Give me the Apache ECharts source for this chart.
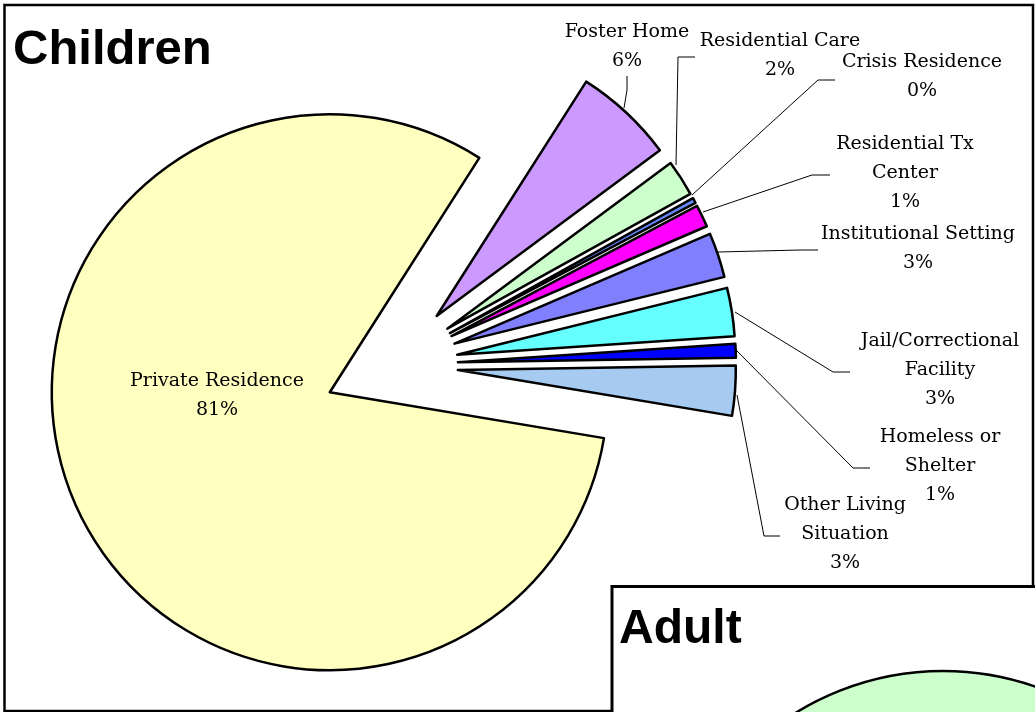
<!DOCTYPE html>
<html>
<head>
<meta charset="utf-8">
<script src="https://cdn.jsdelivr.net/npm/echarts@6/dist/echarts.min.js"></script>
<style>
  html, body { margin: 0; padding: 0; background: #fff; }
  #chart { width: 1035px; height: 712px; }
</style>
</head>
<body>
<div id="chart"></div>
<script>
// children living situation (share of total)
const categories = [
  'Private Residence', 'Foster Home', 'Residential Care', 'Crisis Residence',
  'Residential Tx Center', 'Institutional Setting', 'Jail/Correctional Facility',
  'Homeless or Shelter', 'Other Living Situation'
];
const childValues = [81.4, 5.8, 2.1, 0.3, 1.3, 2.6, 2.8, 0.8, 2.9];
// label text as broken on the slide
const labelNames = [
  'Private Residence', 'Foster Home', 'Residential Care', 'Crisis Residence',
  'Residential Tx\nCenter', 'Institutional Setting', 'Jail/Correctional\nFacility',
  'Homeless or\nShelter', 'Other Living\nSituation'
];
const sliceColors = ['#FFFFC0', '#CC99FF', '#CCFFCC', '#6688FF', '#FF00FF',
  '#8080FF', '#66FFFF', '#0000FF', '#A6CAF0'];

// adult pie: only the top of its first slice shows
const adultCategories = ['Private Residence'];
const adultValues = [100];

// label placement: [centerX, topY], leader line points
const labelSpots = [
  [217, 367], [627, 18], [780, 27], [922, 48], [905, 130],
  [918, 220], [940, 327], [940, 423], [845, 491]
];
const leaderLines = [
  null,
  [[624, 108], [627, 90], [627, 76]],
  [[676, 165], [678, 57], [695, 57]],
  [[692, 195], [818, 80], [835, 80]],
  [[703, 212], [812, 175], [830, 175]],
  [[718, 252], [800, 250], [818, 250]],
  [[735, 312], [833, 372], [850, 372]],
  [[736, 350], [853, 468], [870, 468]],
  [[737, 395], [764, 536], [780, 536]]
];

const chart = echarts.init(document.getElementById('chart'), null, { renderer: 'canvas' });

const serif = '"DejaVu Serif", "Liberation Serif", serif';

const pieBase = {
  type: 'pie',
  center: [391, 365],
  radius: 278,
  startAngle: 350.5,
  clockwise: true,
  avoidLabelOverlap: false,
  emphasis: { disabled: true }
};

const option = {
  animation: false,
  backgroundColor: '#fff',
  graphic: [
    {
      type: 'rect', z: 0,
      shape: { x: 4.5, y: 5, width: 1028.5, height: 706 },
      style: { fill: '#fff', stroke: '#000', lineWidth: 2.5 }
    },
    {
      type: 'rect', z: 0,
      shape: { x: 612, y: 586.5, width: 440, height: 200 },
      style: { fill: '#fff', stroke: '#000', lineWidth: 3 }
    },
    {
      type: 'text', z: 5, left: 13, top: 26,
      style: { text: 'Children', font: 'bold 49px "Liberation Sans", Arial, sans-serif', fill: '#000' }
    },
    {
      type: 'text', z: 5, left: 619, top: 606,
      style: { text: 'Adult', font: 'bold 48px "Liberation Sans", Arial, sans-serif', fill: '#000' }
    }
  ],
  series: [
    Object.assign({}, pieBase, {
      name: 'Children',
      selectedMode: 'multiple',
      selectedOffset: 67,
      itemStyle: { borderColor: '#000', borderWidth: 2.5 },
      select: { itemStyle: { borderColor: '#000', borderWidth: 2.5 } },
      label: { show: false },
      labelLine: { show: false },
      data: categories.map((name, i) => ({
        name,
        value: childValues[i],
        selected: true,
        itemStyle: { color: sliceColors[i] }
      }))
    }),
    // same pie, unexploded and invisible, carries the labels
    Object.assign({}, pieBase, {
      name: 'Children labels',
      silent: true,
      z: 3,
      itemStyle: { color: 'rgba(0,0,0,0)', borderWidth: 0 },
      label: {
        show: true,
        position: 'outside',
        fontFamily: serif,
        fontSize: 19,
        lineHeight: 29,
        color: '#000',
        align: 'center',
        formatter: p => labelNames[p.dataIndex] + '\n' + Math.round(p.percent) + '%'
      },
      labelLine: { show: true, lineStyle: { color: '#000', width: 1 } },
      labelLayout: p => {
        const s = labelSpots[p.dataIndex];
        const out = { x: s[0], y: s[1], align: 'center', verticalAlign: 'top', hideOverlap: false };
        if (leaderLines[p.dataIndex]) out.labelLinePoints = leaderLines[p.dataIndex];
        return out;
      },
      data: categories.map((name, i) => ({
        name,
        value: childValues[i],
        labelLine: { show: i !== 0 }
      }))
    }),
    {
      type: 'pie',
      name: 'Adult',
      center: [943, 951],
      radius: 280,
      silent: true,
      emphasis: { disabled: true },
      label: { show: false },
      labelLine: { show: false },
      itemStyle: { borderColor: '#000', borderWidth: 2.5, color: '#CCFFCC' },
      data: adultCategories.map((name, i) => ({ name, value: adultValues[i] }))
    }
  ]
};

chart.setOption(option);
</script>
</body>
</html>
